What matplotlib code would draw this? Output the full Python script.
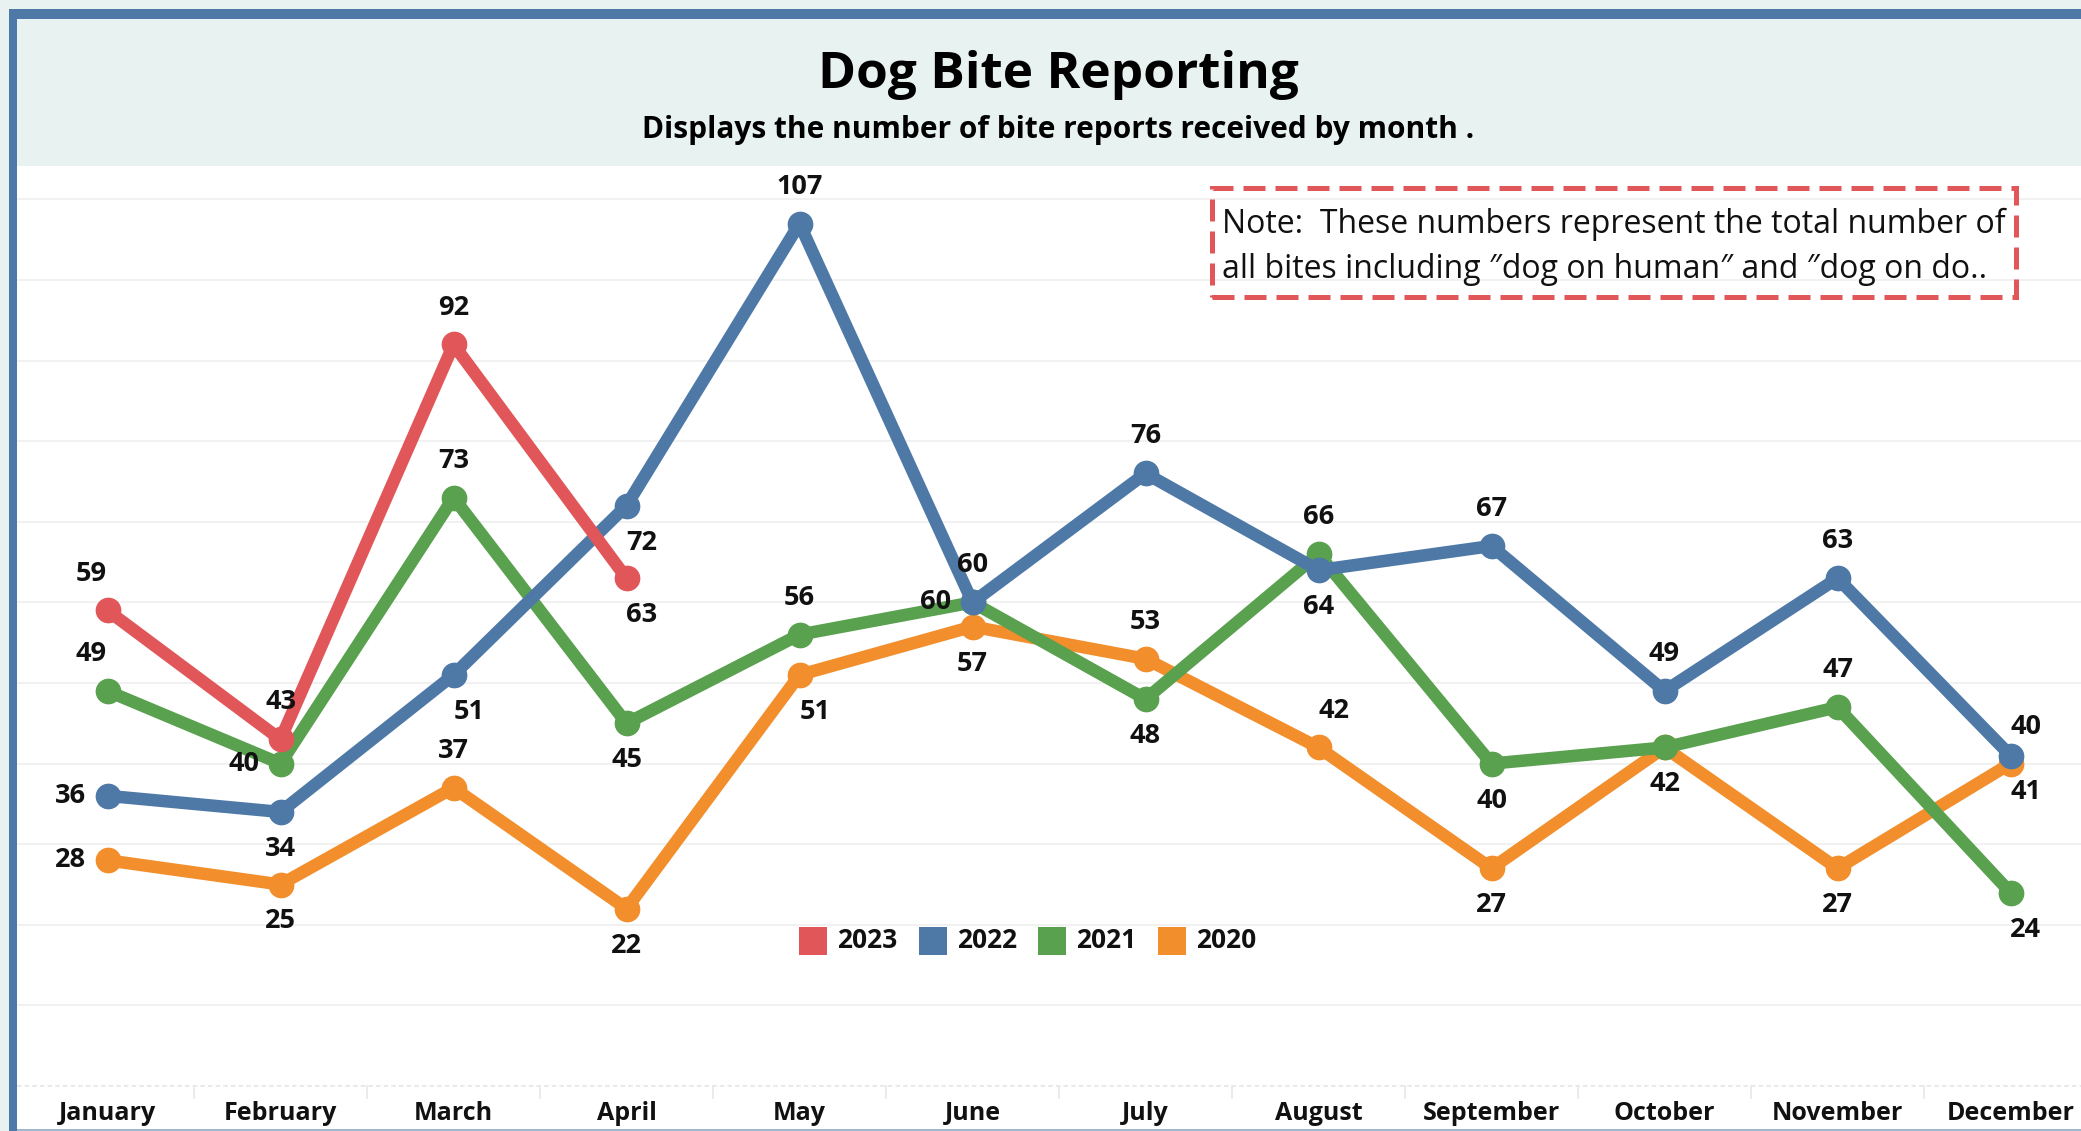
import matplotlib
matplotlib.use("Agg")
import matplotlib.pyplot as plt
from matplotlib.patches import Rectangle

plt.rcParams["font.family"] = ["Open Sans", "DejaVu Sans"]

W, H = 2081, 1131

months = ["January", "February", "March", "April", "May", "June", "July",
          "August", "September", "October", "November", "December"]
years = ["2023", "2022", "2021", "2020"]
bites_2023 = [59, 43, 92, 63]
bites_2022 = [36, 34, 51, 72, 107, 60, 76, 64, 67, 49, 63, 41]
bites_2021 = [49, 40, 73, 45, 56, 60, 48, 66, 40, 42, 47, 24]
bites_2020 = [28, 25, 37, 22, 51, 57, 53, 42, 27, 42, 27, 40]

# where each value label sits relative to its point (None = hidden by overlap)
pos_2023 = ["al", "a", "a", "br"]
pos_2022 = ["l", "b", "br", "br", "a", "a", "a", "b", "a", "a", "a", "br"]
pos_2021 = ["al", "l", "a", "b", "a", "l", "b", "a", "b", None, "a", "br"]
pos_2020 = ["l", "b", "a", "b", "br", "b", "a", "ar", "b", "b", "b", "ar"]

COLORS = {"2023": "#e15759", "2022": "#4e79a7", "2021": "#59a14f", "2020": "#f28e2b"}
FRAME = "#4e79a7"
MINT = "#e8f2f0"

# label offsets in points (1 px = 0.72 pt at dpi 100)
OFF = {"a": (0, 26.6), "b": (0, -26.6), "l": (-26.6, 0), "r": (26.6, 0),
       "al": (-12, 26.6), "ar": (11, 26.6), "bl": (-12, -26.6), "br": (11, -26.6)}


def fx(px):
    return px / W


def fy(py):
    return 1 - py / H


fig = plt.figure(figsize=(W / 100, H / 100), dpi=100)
fig.patch.set_facecolor(MINT)

# plot area (white), from header bottom to figure bottom
ax = fig.add_axes([fx(17), 0, 1 - fx(17), (H - 166) / H])
ax.set_facecolor("white")
for s in ax.spines.values():
    s.set_visible(False)
ax.set_xticks([])
ax.set_yticks([])

x0, dx = 107.5, 173.0
ax.set_xlim((17 - x0) / dx, (W - x0) / dx)
ax.set_ylim((1086 - 1131) / 8.06, (1086 - 166) / 8.06)

for v in range(10, 120, 10):
    ax.axhline(v, color="#efefef", lw=1.2, zorder=0)
ax.axhline(0, color="#e3e3e3", lw=1.1, ls=(0, (3, 2)), zorder=0)
for i in range(len(months)):
    ax.plot([i + 0.5, i + 0.5], [0, -1.5], color="#e8e8e8", lw=1.2, zorder=0)
    ax.text(i, -3.35, months[i], ha="center", va="center", fontsize=18,
            fontweight="bold", color="#111111")

series = [("2020", bites_2020, pos_2020, 2), ("2021", bites_2021, pos_2021, 3),
          ("2022", bites_2022, pos_2022, 4), ("2023", bites_2023, pos_2023, 5)]
for yr, vals, pos, z in series:
    xs = list(range(len(vals)))
    ax.plot(xs, vals, color=COLORS[yr], lw=9, marker="o", ms=17.5,
            solid_capstyle="round", solid_joinstyle="round", zorder=z)
    for x, v, p in zip(xs, vals, pos):
        if p is None:
            continue
        ax.annotate(str(v), (x, v), xytext=OFF[p], textcoords="offset points",
                    ha="center", va="center", fontsize=19.5, fontweight="bold",
                    color="#111111", zorder=10)

# note box
fig.add_artist(Rectangle((fx(1212), fy(297)), fx(2016) - fx(1212), fy(188) - fy(297),
                         transform=fig.transFigure, fill=False,
                         edgecolor="#e15759", lw=3.6, ls=(0, (4.4, 2.0))))
fig.text(fx(1222), fy(224), "Note:  These numbers represent the total number of",
         ha="left", va="center", fontsize=23, color="#111111")
fig.text(fx(1222), fy(269), "all bites including \u2033dog on human\u2033 and \u2033dog on do..",
         ha="left", va="center", fontsize=23, color="#111111")

# legend
sq = 28
for yr, cx, tx in zip(years, [813, 933, 1052, 1172], [837, 957, 1076, 1196]):
    fig.add_artist(Rectangle((fx(cx - sq / 2), fy(941 + sq / 2)), sq / W, sq / H,
                             transform=fig.transFigure, color=COLORS[yr], lw=0))
    fig.text(fx(tx), fy(941), yr, ha="left", va="center", fontsize=19,
             fontweight="bold", color="#111111")

# header text
fig.text(fx(1058), fy(75), "Dog Bite Reporting", ha="center", va="center",
         fontsize=37, fontweight="bold", color="#000000")
fig.text(fx(1058), fy(130), "Displays the number of bite reports received by month .",
         ha="center", va="center", fontsize=21.5, fontweight="bold", color="#000000")

# dashboard frame
fig.add_artist(Rectangle((fx(9), 0), fx(17) - fx(9), fy(9), transform=fig.transFigure,
                         color=FRAME, lw=0))
fig.add_artist(Rectangle((fx(9), fy(19)), 1 - fx(9), fy(9) - fy(19), transform=fig.transFigure,
                         color=FRAME, lw=0))
fig.add_artist(Rectangle((fx(17), 0), 1 - fx(17), 2 / H, transform=fig.transFigure,
                         color="#9fb8d0", lw=0))

fig.savefig("out.png", dpi=100, facecolor=fig.get_facecolor())
